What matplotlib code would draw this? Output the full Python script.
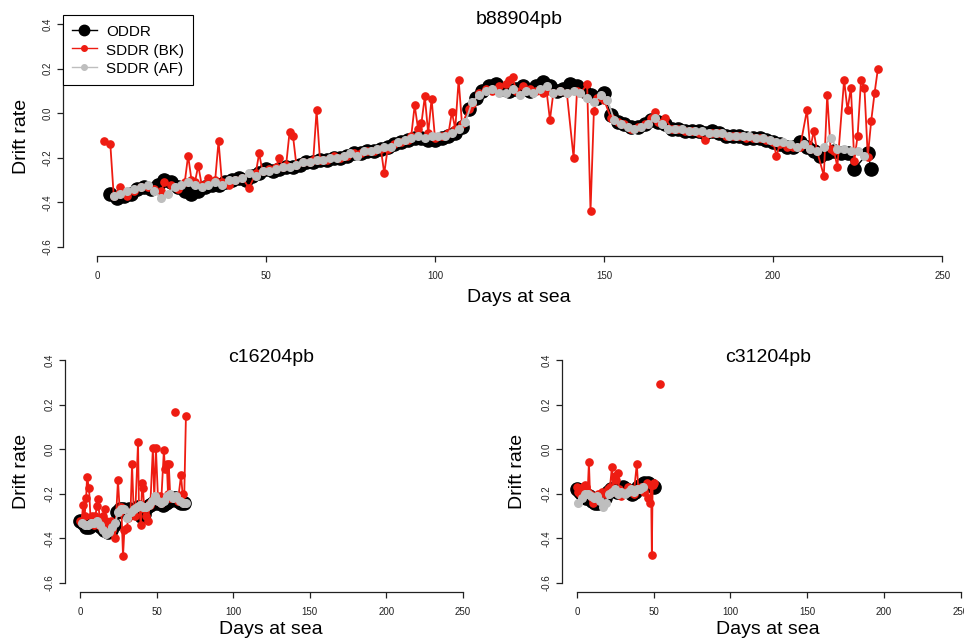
import numpy as np
import matplotlib
matplotlib.use("Agg")
import matplotlib.pyplot as plt
from matplotlib.lines import Line2D

plt.rcParams['font.family'] = ['Liberation Sans', 'DejaVu Sans']

nan = np.nan

# ---- b88904pb ----
b889_oddr_days = [4, 6, 8, 10, 12, 14, 16, 18, 20, 22, 24, 26, 28, 30, 32, 34, 36, 38, 40, 42,
                  44, 46, 48, 50, 52, 54, 56, 58, 60, 62, 64, 66, 68, 70, 72, 74, 76, 78, 80, 82,
                  84, 86, 88, 90, 92, 94, 96, 98, 100, 102, 104, 106, 108, 110, 112, 114, 116, 118, 120, 122,
                  124, 126, 128, 130, 132, 134, 136, 138, 140, 142, 144, 146, 148, 150, 152, 154, 156, 158, 160, 162,
                  164, 166, 168, 170, 172, 174, 176, 178, 180, 182, 184, 186, 188, 190, 192, 194, 196, 198, 200, 202,
                  204, 206, 208, 210, 212, 214, 216, 218, 220, 222, 224, 228, 229]
b889_oddr = [-0.36, -0.38, -0.37, -0.36, -0.34, -0.33, -0.34, -0.32, -0.30, -0.31,
             -0.33, -0.35, -0.36, -0.35, -0.33, -0.32, -0.32, -0.31, -0.30, -0.29,
             -0.30, -0.28, -0.27, -0.25, -0.26, -0.25, -0.24, -0.24, -0.23, -0.22,
             -0.22, -0.21, -0.21, -0.20, -0.20, -0.19, -0.18, -0.18, -0.17, -0.17,
             -0.16, -0.15, -0.14, -0.13, -0.12, -0.11, -0.11, -0.12, -0.12, -0.11,
             -0.10, -0.09, -0.06, 0.02, 0.07, 0.10, 0.12, 0.13, 0.11, 0.10,
             0.11, 0.12, 0.10, 0.12, 0.14, 0.12, 0.10, 0.11, 0.13, 0.12,
             0.10, 0.08, 0.07, 0.09, -0.01, -0.04, -0.05, -0.06, -0.06, -0.05,
             -0.03, -0.04, -0.05, -0.07, -0.07, -0.08, -0.08, -0.08, -0.09, -0.08,
             -0.09, -0.10, -0.10, -0.10, -0.11, -0.11, -0.11, -0.12, -0.13, -0.14,
             -0.15, -0.15, -0.13, -0.15, -0.17, -0.19, -0.18, -0.17, -0.18, -0.18,
             -0.25, -0.18, -0.25]
b889_bk_days = [2, 4, 5, 7, 9, 11, 13, 15, 17, 19, 20, 22, 24, 26, 27, 28, 29, 30, 31, 33,
                35, 36, 37, 39, 41, 43, 45, 47, 48, 49, 51, 53, 54, 55, 56, 57, 58, 59, 61, 63,
                64, 65, 66, 68, 70, 72, 74, 76, 78, 80, 82, 84, 85, 86, 88, 90, 92, 93, 94, 95,
                96, 97, 98, 99, 100, 102, 104, 105, 106, 107, 108, 110, 111, 113, 115, 117, 119, 121, 122, 123,
                124, 126, 128, 130, 132, 133, 134, 135, 137, 139, 141, 142, 143, 145, 146, 147, 148, 150, 152, 154,
                156, 158, 160, 162, 164, 165, 166, 168, 170, 172, 174, 176, 178, 180, 182, 184, 186, 188, 190, 192,
                194, 196, 198, 200, 201, 202, 204, 206, 208, 210, 211, 212, 213, 215, 216, 217, 218, 219, 221, 222,
                223, 224, 225, 226, 227, 228, 229, 230, 231]
b889_bk = [-0.125, -0.14, -0.37, -0.33, -0.37, -0.35, -0.33, -0.33, -0.34, -0.35, -0.31, -0.32, -0.34, -0.31, -0.19, -0.30, -0.31, -0.235, -0.32, -0.29,
           -0.30, -0.125, -0.31, -0.32, -0.30, -0.29, -0.335, -0.27, -0.18, -0.26, -0.25, -0.24, -0.20, -0.24, -0.23, -0.085, -0.10, -0.23, -0.22, -0.22,
           -0.21, 0.013, -0.21, -0.21, -0.19, -0.20, -0.19, -0.18, -0.18, -0.17, -0.17, -0.16, -0.27, -0.16, -0.14, -0.13, -0.12, -0.10, 0.035, -0.07,
           -0.045, 0.075, -0.09, 0.065, -0.11, -0.10, -0.09, 0.005, -0.07, 0.15, -0.05, 0.02, 0.04, 0.09, 0.11, 0.10, 0.12, 0.13, 0.15, 0.16,
           0.10, 0.12, 0.11, 0.10, 0.09, 0.10, -0.03, 0.09, 0.10, 0.09, -0.20, 0.10, 0.09, 0.13, -0.44, 0.01, 0.07, 0.06, -0.02, -0.04,
           -0.05, -0.07, -0.06, -0.05, -0.02, 0.005, -0.04, -0.02, -0.07, -0.07, -0.08, -0.08, -0.09, -0.12, -0.09, -0.09, -0.10, -0.10, -0.10, -0.11,
           -0.11, -0.11, -0.12, -0.13, -0.19, -0.14, -0.15, -0.15, -0.15, 0.013, -0.16, -0.08, -0.17, -0.28, 0.083, -0.16, -0.17, -0.24, 0.15, 0.013,
           0.115, -0.213, -0.10, 0.15, 0.115, -0.195, -0.036, 0.09, 0.20]
b889_af_days = [5, 7, 9, 11, 13, 15, 17, 19, 21, 23, 25, 27, 29, 31, 33, 35, 37, 39, 41, 43,
                45, 47, 49, 51, 53, 55, 57, 59, 61, 63, 65, 67, 69, 71, 73, 75, 77, 79, 81, 83,
                85, 87, 89, 91, 93, 95, 97, 99, 101, 103, 105, 107, 109, 111, 113, 115, 117, 119, 121, 123,
                125, 127, 129, 131, 133, 135, 137, 139, 141, 143, 145, 147, 149, 151, 153, 155, 157, 159, 161, 163,
                165, 167, 169, 171, 173, 175, 177, 179, 181, 183, 185, 187, 189, 191, 193, 195, 197, 199, 201, 203,
                205, 207, 209, 211, 213, 215, 217, 219, 221, 223, 225, 227]
b889_af = [-0.37, -0.36, -0.35, -0.34, -0.33, -0.32, -0.35, -0.38, -0.36, -0.33,
           -0.32, -0.31, -0.32, -0.33, -0.32, -0.31, -0.32, -0.30, -0.30, -0.29,
           -0.27, -0.28, -0.26, -0.26, -0.25, -0.24, -0.24, -0.23, -0.22, -0.22,
           -0.21, -0.21, -0.20, -0.20, -0.19, -0.18, -0.19, -0.17, -0.17, -0.16,
           -0.15, -0.15, -0.13, -0.12, -0.11, -0.10, -0.11, -0.10, -0.10, -0.10,
           -0.09, -0.07, -0.04, 0.05, 0.08, 0.10, 0.11, 0.09, 0.09, 0.11,
           0.08, 0.10, 0.09, 0.11, 0.12, 0.09, 0.10, 0.09, 0.10, 0.09,
           0.07, 0.05, 0.08, 0.06, -0.03, -0.05, -0.06, -0.07, -0.06, -0.05,
           -0.02, -0.05, -0.07, -0.07, -0.07, -0.08, -0.08, -0.08, -0.09, -0.09,
           -0.09, -0.10, -0.10, -0.10, -0.10, -0.11, -0.11, -0.12, -0.13, -0.13,
           -0.14, -0.15, -0.14, -0.16, -0.17, -0.15, -0.11, -0.16, -0.16, -0.17,
           -0.17, -0.19]

# ---- c16204pb ----
c162_oddr_days = [0, 2, 4, 6, 8, 10, 12, 14, 16, 18, 20, 22, 24, 26, 28, 30, 32, 34,
                  36, 38, 40, 42, 44, 46, 48, 50, 52, 54, 56, 58, 60, 62, 64, 66, 68]
c162_oddr = [-0.32, -0.33, -0.35, -0.35, -0.34, -0.33, -0.34, -0.35, -0.36, -0.37, -0.36, -0.34,
             -0.28, -0.27, -0.27, -0.28, -0.27, -0.28, -0.27, -0.26, -0.30, -0.29, -0.26, -0.25,
             -0.24, -0.24, -0.23, -0.25, -0.24, -0.23, -0.22, -0.22, -0.23, -0.24, -0.24]
c162_bk_days = [0, 1, 2, 3, 4, 4.6, 5.9, 7, 8, 9, 10, 11, 11.7, 13, 14, 15, 16.3, 17, 18, 20,
                21, 22.8, 24.8, 26, 27, 28.1, 29, 30.6, 31.5, 33, 34, 35, 36, 37.9, 38.5, 39.8, 40.5, 41.1, 42, 43,
                44.4, 45.5, 46, 47.6, 48.5, 49.6, 51, 52, 53, 54.8, 55.5, 56.7, 57.5, 58, 59, 60, 61, 62, 62.5, 63,
                64, 66, 67, 68, 69.2]
c162_bk = [-0.32, -0.33, -0.25, -0.30, -0.22, -0.125, -0.175, -0.33, -0.30, -0.34, -0.30, -0.256, -0.225, -0.32, -0.35, -0.30, -0.27, -0.32, -0.35, -0.32,
           -0.36, -0.40, -0.14, -0.28, -0.26, -0.48, -0.36, -0.355, -0.31, -0.28, -0.067, -0.27, -0.30, 0.03, -0.26, -0.34, -0.15, -0.175, -0.27, -0.30,
           -0.32, -0.25, -0.24, 0.004, -0.22, 0.004, -0.23, -0.21, -0.24, -0.004, -0.09, -0.067, -0.20, -0.067, -0.22, -0.21, nan, 0.166, nan, -0.22,
           -0.23, -0.117, -0.20, -0.24, 0.148]
c162_af_days = [1, 3, 5, 7, 9, 11, 13, 15, 17, 19, 21, 23, 25, 27, 29, 31, 33, 35,
                37, 39, 41, 43, 45, 47, 49, 51, 53, 55, 57, 59, 61, 63, 65, 67, 69]
c162_af = [-0.33, -0.34, -0.34, -0.33, -0.33, -0.32, -0.34, -0.36, -0.38, -0.37, -0.35, -0.33,
           -0.28, -0.27, -0.27, -0.31, -0.28, -0.27, -0.26, -0.25, -0.26, -0.26, -0.25, -0.23,
           -0.21, -0.23, -0.24, -0.23, -0.21, -0.20, -0.22, -0.21, -0.23, -0.24, -0.24]

# ---- c31204pb ----
c312_oddr_days = [0, 2, 4, 6, 8, 10, 12, 14, 16, 18, 20, 22, 24, 26, 28, 30, 32, 34,
                  36, 38, 40, 42, 44, 46, 48, 50]
c312_oddr = [-0.18, -0.19, -0.21, -0.22, -0.21, -0.23, -0.24, -0.24, -0.23, -0.22, -0.19, -0.18, -0.18,
             -0.19, -0.18, -0.17, -0.18, -0.19, -0.20, -0.19, -0.17, -0.16, -0.15, -0.15, -0.16, -0.17]
c312_bk_days = [0, 1, 2, 3, 4, 5, 6, 7, 7.8, 8.5, 9.5, 10.5, 12, 14, 16, 18, 20, 21.5, 22.8, 23.5,
                24.5, 25.5, 26.7, 27.5, 29, 31, 33, 35, 37, 39, 40, 42, 44, 45.5, 46.5, 47.5, 48.3, 48.8, 49.3, 50,
                52, 54]
c312_bk = [-0.17, -0.19, -0.20, -0.18, -0.17, -0.16, -0.17, -0.19, -0.058, -0.20, -0.22, -0.24, -0.21, -0.20, -0.19, -0.20, -0.18, -0.17, -0.08, -0.19,
           -0.12, -0.14, -0.106, -0.18, -0.21, -0.19, -0.17, -0.18, -0.20, -0.067, -0.18, -0.17, -0.19, -0.15, -0.22, -0.24, -0.16, -0.475, -0.16, -0.15,
           nan, 0.29]
c312_af_days = [1, 3, 5, 7, 9, 11, 13, 15, 17, 19, 21, 23, 25, 27, 29, 31, 33, 35, 37, 39, 41, 43]
c312_af = [-0.24, -0.22, -0.20, -0.20, -0.21, -0.22, -0.21, -0.23, -0.26, -0.24, -0.20,
           -0.19, -0.18, -0.20, -0.19, -0.20, -0.19, -0.18, -0.19, -0.18, -0.18, -0.17]

x_ticks = [0, 50, 100, 150, 200, 250]
y_ticks = [-0.6, -0.4, -0.2, 0.0, 0.2, 0.4]
y_tick_labels = ['-0.6', '-0.4', '-0.2', '0.0', '0.2', '0.4']

RED = '#ee1c12'
GREY = '#bebebe'
W, H = 964, 640


def px(x, y):
    return x / W, 1 - y / H


fig = plt.figure(figsize=(9.64, 6.4), dpi=100)


def panel(rect, title, title_xy, ylab_xy, xlab_xy, od_d, od_v, bk_d, bk_v, af_d, af_v):
    l, t, r, b = rect
    ax = fig.add_axes([l / W, 1 - b / H, (r - l) / W, (b - t) / H])
    ax.plot(od_d, od_v, '-o', color='black', lw=1, ms=9.5, zorder=2)
    ax.plot(bk_d, bk_v, '-o', color=RED, lw=1.3, ms=5.2, zorder=3)
    ax.plot(af_d, af_v, '-o', color=GREY, lw=1.3, ms=5.5, zorder=4)
    ax.set_xlim(-10, 260)
    ax.set_ylim(-0.64, 0.44)
    ax.set_xticks(x_ticks)
    ax.set_yticks(y_ticks)
    ax.set_yticklabels(y_tick_labels, rotation=90, va='center')
    for s in ['top', 'right']:
        ax.spines[s].set_visible(False)
    ax.spines['left'].set_bounds(-0.6, 0.4)
    ax.spines['bottom'].set_bounds(0, 250)
    for s in ['left', 'bottom']:
        ax.spines[s].set_linewidth(0.9)
        ax.spines[s].set_color('#222222')
    ax.tick_params(direction='out', length=4.5, width=0.9, labelsize=7,
                   colors='#222222')
    ax.tick_params(axis='x', pad=6)
    ax.tick_params(axis='y', pad=3)
    fig.text(*px(*title_xy), title, ha='center', va='center', fontsize=14)
    fig.text(*px(*ylab_xy), 'Drift rate', rotation=90, ha='center', va='center', fontsize=14)
    fig.text(*px(*xlab_xy), 'Days at sea', ha='center', va='center', fontsize=14)
    return ax


ax1 = panel((63, 15, 976, 256), 'b88904pb', (519, 20), (22, 136), (519, 297),
            b889_oddr_days, b889_oddr, b889_bk_days, b889_bk, b889_af_days, b889_af)
panel((64.7, 351, 478, 592), 'c16204pb', (271, 358), (21, 471), (271, 630),
      c162_oddr_days, c162_oddr, c162_bk_days, c162_bk, c162_af_days, c162_af)
panel((561.6, 351, 976, 592), 'c31204pb', (768, 358), (517, 471), (768, 630),
      c312_oddr_days, c312_oddr, c312_bk_days, c312_bk, c312_af_days, c312_af)

handles = [Line2D([0], [0], color='black', lw=1, marker='o', ms=7.5),
           Line2D([0], [0], color=RED, lw=1, marker='o', ms=4),
           Line2D([0], [0], color=GREY, lw=1, marker='o', ms=4)]
leg = ax1.legend(handles, ['ODDR', 'SDDR (BK)', 'SDDR (AF)'], loc='upper left',
                 bbox_to_anchor=(0, 1), borderaxespad=0, fontsize=11,
                 fancybox=False, edgecolor='black', framealpha=1,
                 borderpad=0.6, labelspacing=0.21, handlelength=1.6,
                 handleheight=1.0, handletextpad=0.6)
leg.get_frame().set_linewidth(0.8)
leg.set_zorder(10)

fig.savefig('out.png', dpi=100)
